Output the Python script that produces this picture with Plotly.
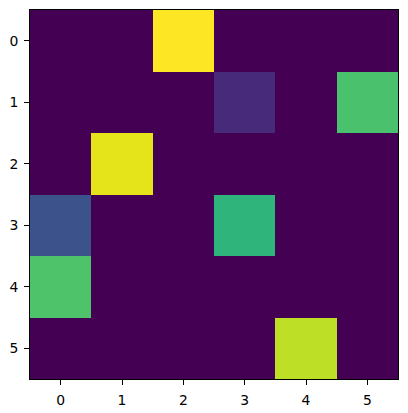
import plotly.graph_objects as go

rows = [0, 1, 2, 3, 4, 5]
cols = [0, 1, 2, 3, 4, 5]
row0 = [0.0, 0.0, 1.0, 0.0, 0.0, 0.0]
row1 = [0.0, 0.0, 0.0, 0.12, 0.0, 0.71]
row2 = [0.0, 0.96, 0.0, 0.0, 0.0, 0.0]
row3 = [0.25, 0.0, 0.0, 0.65, 0.0, 0.0]
row4 = [0.72, 0.0, 0.0, 0.0, 0.0, 0.0]
row5 = [0.0, 0.0, 0.0, 0.0, 0.9, 0.0]
z = [row0, row1, row2, row3, row4, row5]

viridis_hex = ["#440154", "#471365", "#482475", "#463480", "#414487", "#3b528b",
               "#355f8d", "#2f6c8e", "#2a788e", "#25848e", "#21918c", "#1e9c89",
               "#22a884", "#2fb47c", "#44bf70", "#5ec962", "#7ad151", "#9bd93c",
               "#bddf26", "#dfe318", "#fde725"]
viridis = [[i / 20, c] for i, c in enumerate(viridis_hex)]

fig = go.Figure(go.Heatmap(z=z, x=cols, y=rows, colorscale=viridis, zmin=0, zmax=1,
                           showscale=False, xgap=0, ygap=0))

axis_common = dict(showgrid=False, zeroline=False, showline=True, linecolor="black",
                   linewidth=1, mirror=True, ticks="outside", ticklen=4.9, tickwidth=0.8,
                   tickcolor="black", tickmode="array", tickvals=[0, 1, 2, 3, 4, 5],
                   ticklabelstandoff=3, automargin=False,
                   tickfont=dict(family="DejaVu Sans", size=13.9, color="black"))
fig.update_xaxes(range=[-0.5, 5.5], **axis_common)
fig.update_yaxes(range=[5.5, -0.5], **axis_common)
fig.update_layout(width=408, height=413, margin=dict(l=30, r=9.5, t=10.3, b=34),
                  plot_bgcolor="white", paper_bgcolor="white")
fig.write_html("out.html", config={"displayModeBar": False})

with open("out.html", "r", encoding="utf-8") as f:
    html = f.read()
html = html.replace("<head>", "<head><style>html,body{margin:0;padding:0;overflow:hidden}</style>", 1)
with open("out.html", "w", encoding="utf-8") as f:
    f.write(html)
